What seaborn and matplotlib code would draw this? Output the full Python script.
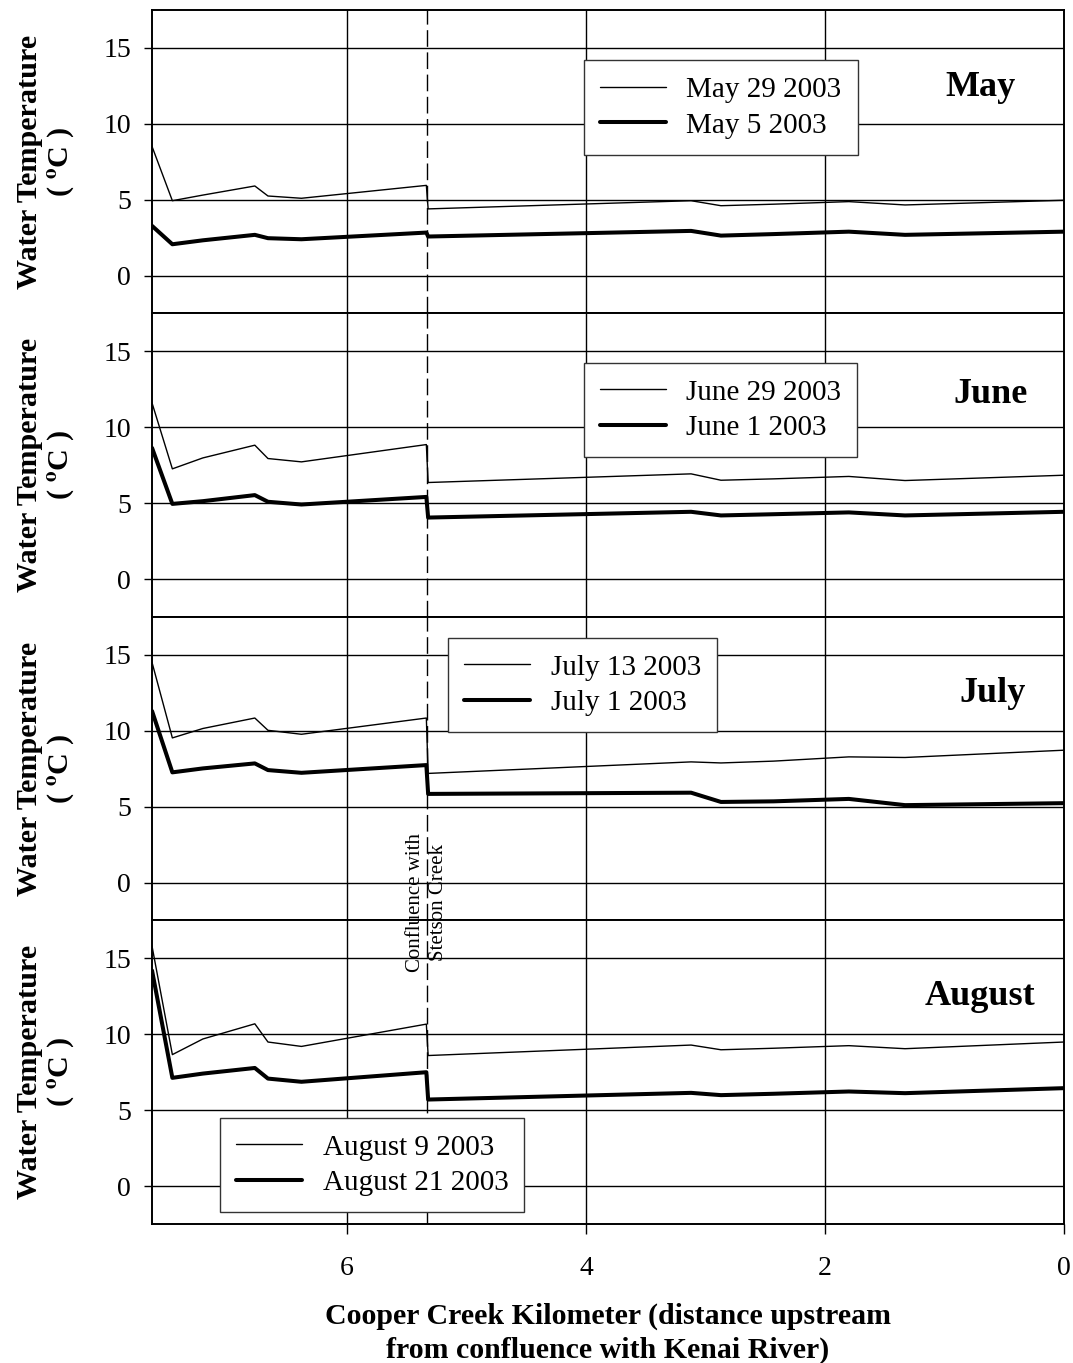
import matplotlib
matplotlib.use("Agg")
import matplotlib.pyplot as plt
import seaborn as sns
import pandas as pd

# Survey stations along Cooper Creek (km upstream of the Kenai River confluence)
stations_km = [7.63, 7.46, 7.205, 6.77, 6.66, 6.38, 5.335, 5.32, 3.12, 2.87, 2.43, 1.80, 1.33, 0.0]
confluence_km = 5.33

# Water temperature (deg C) at each station, per survey date
may29 = [8.5, 4.93, 5.3, 5.9, 5.24, 5.09, 5.94, 4.39, 4.93, 4.6, 4.7, 4.87, 4.65, 4.96]
may5 = [3.27, 2.06, 2.32, 2.68, 2.46, 2.39, 2.83, 2.57, 2.94, 2.63, 2.73, 2.89, 2.68, 2.89]
june29 = [11.6, 7.26, 7.98, 8.82, 7.94, 7.72, 8.86, 6.36, 6.93, 6.51, 6.6, 6.76, 6.49, 6.84]
june1 = [8.64, 4.95, 5.13, 5.53, 5.09, 4.91, 5.41, 4.05, 4.43, 4.19, 4.27, 4.39, 4.19, 4.43]
july13 = [14.5, 9.53, 10.15, 10.84, 10.03, 9.77, 10.84, 7.19, 7.95, 7.88, 8.0, 8.28, 8.24, 8.72]
july1 = [11.3, 7.26, 7.52, 7.85, 7.41, 7.23, 7.74, 5.84, 5.92, 5.31, 5.35, 5.51, 5.1, 5.23]
aug9 = [15.8, 8.66, 9.69, 10.69, 9.49, 9.2, 10.67, 8.6, 9.29, 8.98, 9.08, 9.25, 9.05, 9.49]
aug21 = [14.2, 7.13, 7.41, 7.78, 7.08, 6.87, 7.5, 5.7, 6.14, 5.99, 6.08, 6.23, 6.12, 6.45]

months = ["May", "June", "July", "August"]
thin_labels = ["May 29 2003", "June 29 2003", "July 13 2003", "August 9 2003"]
thick_labels = ["May 5 2003", "June 1 2003", "July 1 2003", "August 21 2003"]
thin_series = [may29, june29, july13, aug9]
thick_series = [may5, june1, july1, aug21]

y_ticks = [0, 5, 10, 15]
x_ticks = [6, 4, 2, 0]

sns.set_style("white")
plt.rcParams["font.family"] = ["Liberation Serif", "DejaVu Serif"]
plt.rcParams["mathtext.fontset"] = "stix"
plt.rcParams["text.color"] = "black"
plt.rcParams["axes.labelcolor"] = "black"
plt.rcParams["xtick.color"] = "black"
plt.rcParams["ytick.color"] = "black"

fig, axes = plt.subplots(4, 1, sharex=True, figsize=(10.73, 13.63), dpi=100)
fig.subplots_adjust(left=0.1417, right=0.9916, top=0.9927, bottom=0.102, hspace=0)

# legend placement (upper-left corner in axes fraction) and month label position
legend_anchor = [(0.474, 0.834), (0.474, 0.836), (0.325, 0.93), (0.075, 0.349)]
month_pos = [(0.908, 0.745), (0.919, 0.733), (0.922, 0.747), (0.908, 0.75)]

for i, ax in enumerate(axes):
    df = pd.DataFrame({"km": stations_km, "thin": thin_series[i], "thick": thick_series[i]})
    sns.lineplot(data=df, x="km", y="thin", ax=ax, color="black", linewidth=1.0,
                 label=thin_labels[i], legend=False)
    sns.lineplot(data=df, x="km", y="thick", ax=ax, color="black", linewidth=2.9,
                 label=thick_labels[i], legend=False)

    ax.set_xlim(7.63, 0)
    ax.set_ylim(-2.5, 17.5)
    ax.set_yticks(y_ticks)
    ax.set_xticks(x_ticks)
    for v in y_ticks:
        ax.axhline(v, color="black", linewidth=1.0, zorder=0)
    for v in x_ticks[:-1]:
        ax.axvline(v, color="black", linewidth=1.0, zorder=0)
    ax.axvline(confluence_km, color="black", linewidth=1.0, dashes=(12, 4), zorder=1)

    for sp in ax.spines.values():
        sp.set_color("black")
        sp.set_linewidth(1.4)

    ax.tick_params(axis="y", direction="out", length=6, width=1.0, color="black",
                   labelsize=20, pad=9, left=True, labelcolor="black")
    ax.tick_params(axis="x", direction="out", length=7, width=1.0, color="black",
                   labelsize=20, pad=16, bottom=(i == 3), labelcolor="black")

    ax.set_ylabel("Water Temperature\n( $^{\\mathbf{o}}$C )", fontsize=21.7,
                  fontweight="bold", linespacing=1.1, color="black")
    ax.yaxis.set_label_coords(-0.083, 0.5)
    ax.set_xlabel("")

    lines = ax.get_lines()
    leg = ax.legend(handles=[lines[0], lines[1]], labels=[thin_labels[i], thick_labels[i]],
                    loc="upper left", bbox_to_anchor=legend_anchor[i], fontsize=21,
                    frameon=True, fancybox=False, edgecolor="#333333", framealpha=1,
                    handlelength=2.25, handletextpad=0.7, borderpad=0.55,
                    labelspacing=0.32, borderaxespad=0)
    leg.get_frame().set_linewidth(1.0)
    leg.set_zorder(5)
    for t in leg.get_texts():
        t.set_color("black")

    ax.text(month_pos[i][0], month_pos[i][1], months[i], transform=ax.transAxes,
            ha="center", va="center", fontsize=26, fontweight="bold", color="black")

axes[-1].set_xlabel("Cooper Creek Kilometer (distance upstream\nfrom confluence with Kenai River)",
                    fontsize=21.5, fontweight="bold", labelpad=16, linespacing=1.3,
                    color="black")

# annotation at the Stetson Creek confluence, placed on the figure so the lower panel does not hide it
fig.text(confluence_km, -1.3, "Confluence with\nStetson Creek", rotation=90,
         transform=axes[2].transData, ha="center", va="center", fontsize=15,
         linespacing=1.25, color="black", zorder=6)

fig.savefig("out.png", dpi=100)
